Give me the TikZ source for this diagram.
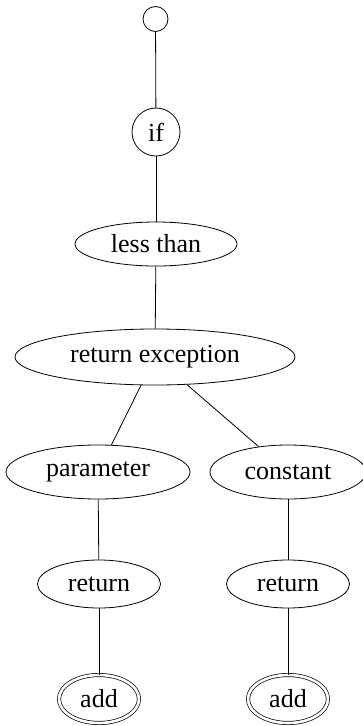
\documentclass[tikz,border=0pt]{standalone}
\usepackage{fontspec}
\setmainfont{Liberation Serif}
\usetikzlibrary{shapes.geometric}
\begin{document}
\begin{tikzpicture}[x=1pt,y=-1pt,
  every node/.style={inner sep=0pt,font=\fontsize{26}{30}\selectfont},
  ell/.style={draw,ellipse,line width=0.8pt},
  circ/.style={draw,circle,line width=0.8pt},
  fin/.style={draw,ellipse,double,double distance=2.6pt,line width=0.7pt},
  conn/.style={line width=0.8pt}]
\useasboundingbox (0,0) rectangle (363,726);
\node[circ,minimum size=25pt] (start) at (155.5,19) {};
\node[circ,minimum size=48pt] (if) at (156,132) {if};
\node[ell,minimum width=162pt,minimum height=44pt] (lt) at (156,244) {less than};
\node[ell,minimum width=280pt,minimum height=56pt] (re) at (155,357) {return exception};
\node[ell,minimum width=184pt,minimum height=54pt] (par) at (98,472) {parameter};
\node[ell,minimum width=156pt,minimum height=54pt] (con) at (288,472) {constant};
\node[ell,minimum width=123pt,minimum height=48pt] (retl) at (99,584) {return};
\node[ell,minimum width=123pt,minimum height=48pt] (retr) at (288,584) {return};
\node[fin,minimum width=80pt,minimum height=48pt] (addl) at (99,699) {add};
\node[fin,minimum width=80pt,minimum height=48pt] (addr) at (288,699) {add};
\draw[conn] (start) -- (if);
\draw[conn] (if) -- (lt);
\draw[conn] (lt) -- (re);
\draw[conn] (re) -- (par);
\draw[conn] (re) -- (con);
\draw[conn] (par) -- (retl);
\draw[conn] (con) -- (retr);
\draw[conn] (retl) -- (addl);
\draw[conn] (retr) -- (addr);
\end{tikzpicture}
\end{document}
